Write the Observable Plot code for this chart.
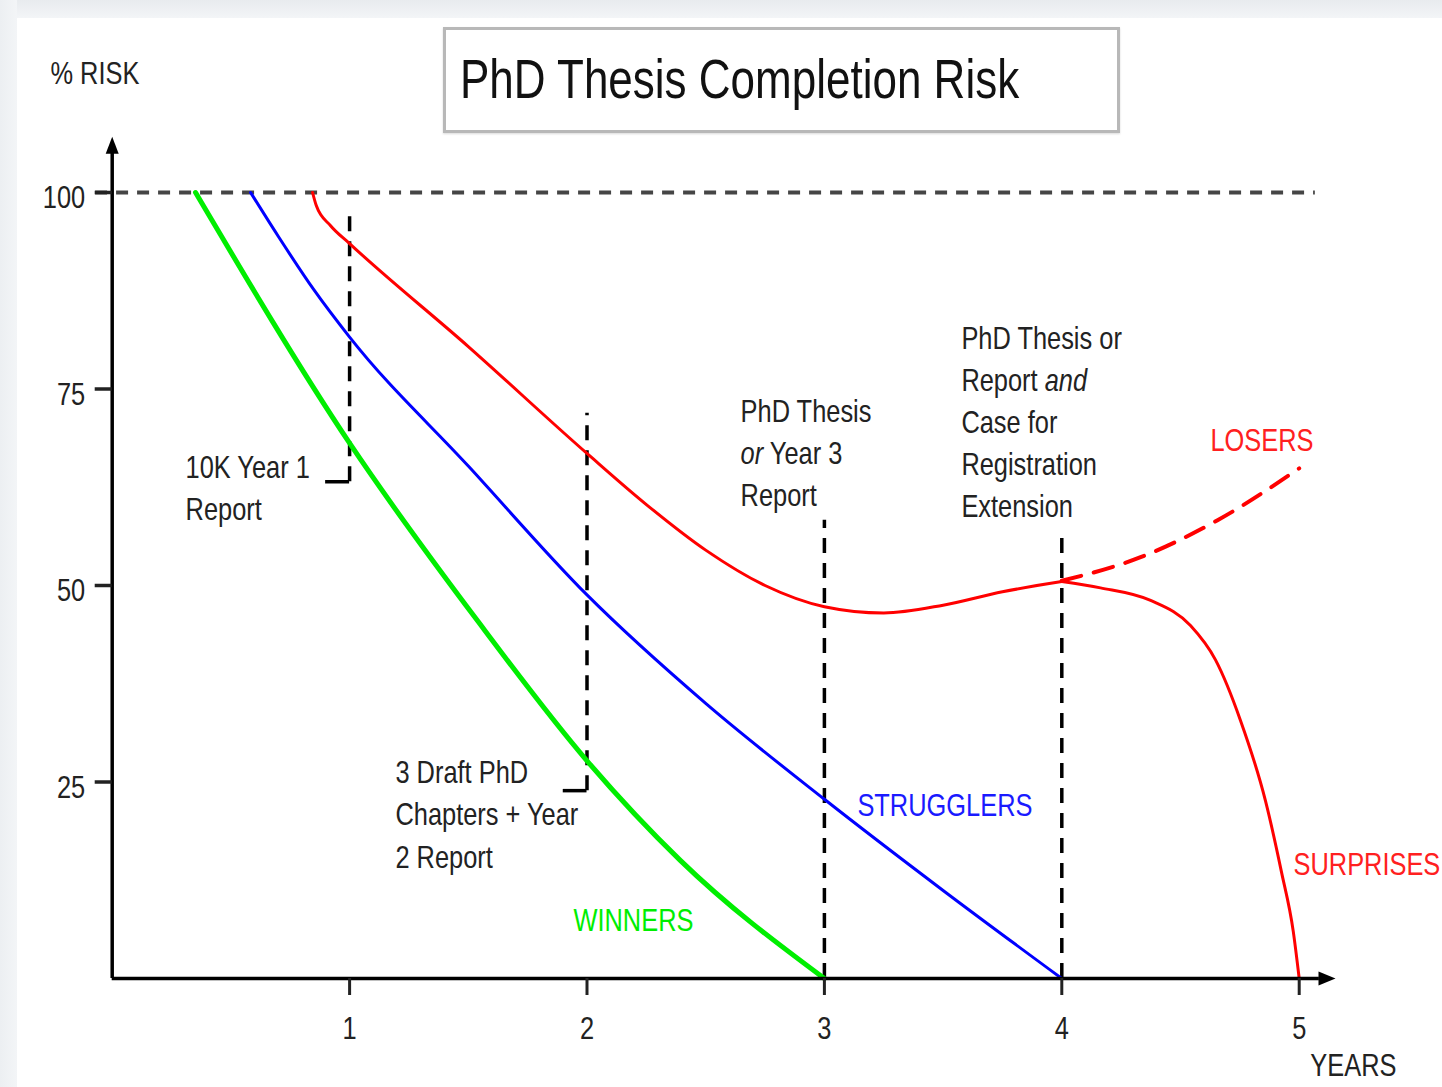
<!DOCTYPE html>
<html>
<head>
<meta charset="utf-8">
<script src="https://cdn.jsdelivr.net/npm/d3@7"></script>
<script src="https://cdn.jsdelivr.net/npm/@observablehq/plot@0.6"></script>
<style>
  html, body { margin: 0; padding: 0; background: #ffffff; }
  #wrap { position: relative; width: 1442px; height: 1087px; overflow: hidden; background: #ffffff;
          font-family: 'Liberation Sans', Arial, sans-serif; }
  #wrap svg { position: absolute; left: 0; top: 0; }
  .edge-top { position: absolute; left: 0; top: 0; width: 1442px; height: 18px;
              background: linear-gradient(#e8ebee, #f3f5f7); }
  .edge-left { position: absolute; left: 0; top: 0; width: 17px; height: 1087px;
               background: linear-gradient(90deg, #eceff2, #f3f5f7); }
  #title { position: absolute; left: 443px; top: 27px; width: 677px; height: 106px; box-sizing: border-box;
           border: 3px solid #b8b8b8; box-shadow: 0 1px 2px rgba(0,0,0,0.15); background: #fff; }
  #title span { position: absolute; left: 14px; top: 22px; font-size: 55px; line-height: 1; color: #111;
                white-space: nowrap; transform: scaleX(0.8); transform-origin: 0 0; }
</style>
</head>
<body>
<div id="wrap">
  <div class="edge-top"></div>
  <div class="edge-left"></div>
  <div id="title"><span>PhD Thesis Completion Risk</span></div>
</div>
<script>
// ---------- data ----------
const xTicks = [1, 2, 3, 4, 5];
const yTicks = [25, 50, 75, 100];

const winnersYear = [0.351, 1, 1.539, 2, 2.394, 3];
const winnersRisk = [100, 68.1, 45.5, 27.7, 15.0, 0];

const strugglersYear = [0.583, 0.7, 0.85, 1, 1.5, 2, 2.5, 3, 3.5, 4];
const strugglersRisk = [100, 94.4, 87.6, 81.6, 65.2, 48.8, 35.0, 22.8, 11.2, 0];

const redYear = [0.844, 0.860, 0.919, 1, 1.5, 2, 2.25, 2.5, 2.75, 3, 3.25, 3.5, 3.75, 4];
const redRisk = [100, 98.3, 95.8, 93.5, 80.4, 66.8, 60.3, 54.5, 50.0, 47.3, 46.5, 47.5, 49.2, 50.5];

const surprisesYear = [4, 4.163, 4.374, 4.542, 4.648, 4.753, 4.858, 4.925, 4.975, 5];
const surprisesRisk = [50.5, 49.7, 48.1, 44.9, 40.5, 32.8, 22.6, 13.6, 6.0, 0];

const losersYear = [4, 4.332, 4.656, 5];
const losersRisk = [50.6, 53.6, 58.3, 64.9];

// milestone report markers (dashed verticals)
const milestoneYear   = [1, 2, 3, 4];
const milestoneTop    = [97.7, 71.9, 58.3, 56.4];
const milestoneBottom = [63.2, 23.9, 0, 0];
const bracketFrom     = [0.899, 1.9, null, null];

// milestone notes
const noteText = ["10K Year 1\nReport", "3 Draft PhD\nChapters + Year\n2 Report",
                  "PhD Thesis\nor Year 3\nReport", "PhD Thesis or\nReport and\nCase for\nRegistration\nExtension"];
const noteYear = [0.309, 1.193, 2.647, 3.577];
const noteRisk = [67.45, 28.65, 74.65, 83.95];
const italicWords = [{line: "or Year 3", word: "or"}, {line: "Report and", word: "and"}];

// group labels
const groupNames = ["WINNERS", "STRUGGLERS", "LOSERS", "SURPRISES"];
const groupYear  = [1.943, 3.139, 4.626, 4.976];
const groupRisk  = [7.3, 21.9, 68.4, 14.4];
const groupColor = {WINNERS: "#00ee00", STRUGGLERS: "#1a1aff", LOSERS: "#ff2020", SURPRISES: "#ff2020"};

// axis titles and extents
const axisTitles = [{text: "% RISK", year: -0.26, risk: 115.1}, {text: "YEARS", year: 5.047, risk: -11.1}];
const yAxisEnd = 105.2, yArrowTip = 107.1;
const xAxisEnd = 5.085, xArrowTip = 5.153;
const refLine = {risk: 100, from: -0.07, to: 5.068};

// ---------- build tables ----------
const zip = (xs, ys) => xs.map((x, i) => ({year: x, risk: ys[i]}));
const winners = zip(winnersYear, winnersRisk);
const strugglers = zip(strugglersYear, strugglersRisk);
const red = zip(redYear, redRisk);
const surprises = zip(surprisesYear, surprisesRisk);
const losers = zip(losersYear, losersRisk);
const milestones = milestoneYear.map((y, i) => ({year: y, top: milestoneTop[i], bottom: milestoneBottom[i], from: bracketFrom[i]}));
const notes = noteText.map((t, i) => ({text: t, year: noteYear[i], risk: noteRisk[i]}));
const groups = groupNames.map((n, i) => ({text: n, year: groupYear[i], risk: groupRisk[i]}));

const triUp = {draw(ctx) { ctx.moveTo(0, 0); ctx.lineTo(6.5, 17); ctx.lineTo(-6.5, 17); ctx.closePath(); }};
const triRight = {draw(ctx) { ctx.moveTo(0, 0); ctx.lineTo(-17, -7); ctx.lineTo(-17, 7); ctx.closePath(); }};

const FONT = "'Liberation Sans', Arial, sans-serif";

const chart = Plot.plot({
  width: 1442,
  height: 1087,
  marginLeft: 111.7,
  marginRight: 143.3,
  marginTop: 192,
  marginBottom: 109,
  x: {domain: [0, 5]},
  y: {domain: [0, 100]},
  style: {fontFamily: FONT, fontSize: "31px", background: "transparent", color: "#222", overflow: "visible"},
  marks: [
    Plot.ruleY([refLine], {y: "risk", x1: "from", x2: "to", stroke: "#454545", strokeWidth: 4, strokeDasharray: "12,9"}),
    Plot.ruleX(milestones, {x: "year", y1: "bottom", y2: "top", stroke: "#000", strokeWidth: 3.5, strokeDasharray: "15,10"}),
    Plot.ruleY(milestones.filter(d => d.from != null), {y: "bottom", x1: "from", x2: "year", stroke: "#000", strokeWidth: 3.5}),
    Plot.line(losers, {x: "year", y: "risk", stroke: "#ff0000", strokeWidth: 4, strokeDasharray: "20,13", curve: "monotone-x"}),
    Plot.line(red, {x: "year", y: "risk", stroke: "#ff0000", strokeWidth: 3, curve: "monotone-x"}),
    Plot.line(surprises, {x: "year", y: "risk", stroke: "#ff0000", strokeWidth: 3, curve: "monotone-x"}),
    Plot.line(strugglers, {x: "year", y: "risk", stroke: "#0000ff", strokeWidth: 3, curve: "monotone-x"}),
    Plot.line(winners, {x: "year", y: "risk", stroke: "#00ee00", strokeWidth: 5, curve: "monotone-x"}),
    Plot.ruleX([0], {y1: 0, y2: yAxisEnd, stroke: "#000", strokeWidth: 3.5}),
    Plot.ruleY([0], {x1: 0, x2: xAxisEnd, stroke: "#000", strokeWidth: 3.5}),
    Plot.dot([{year: 0, risk: yArrowTip}], {x: "year", y: "risk", symbol: triUp, fill: "#000", stroke: null}),
    Plot.dot([{year: xArrowTip, risk: 0}], {x: "year", y: "risk", symbol: triRight, fill: "#000", stroke: null}),
    Plot.axisY({ticks: yTicks, tickSize: 17, strokeWidth: 3.5, label: null, tickFormat: () => ""}),
    Plot.axisY({ticks: yTicks, tickSize: 0, tickPadding: 27, fontSize: 31, label: null, fill: "#222", dy: 6, tickFormat: d => String(d)}),
    Plot.axisX({ticks: xTicks, tickSize: 17, tickPadding: 21, strokeWidth: 3, fontSize: 31, label: null, fill: "#222", tickFormat: d => String(d)}),
    Plot.text(notes, {x: "year", y: "risk", text: "text", textAnchor: "start", lineAnchor: "top", lineHeight: 1.36, fontSize: 31, fill: "#222"}),
    Plot.text(groups, {x: "year", y: "risk", text: "text", textAnchor: "start", lineAnchor: "middle", fontSize: 31, fill: d => groupColor[d.text]}),
    Plot.text(axisTitles, {x: "year", y: "risk", text: "text", textAnchor: "start", lineAnchor: "middle", fontSize: 31, fill: "#222"})
  ]
});

// italic words inside multi-line notes
const NS = "http://www.w3.org/2000/svg";
chart.querySelectorAll("text, tspan").forEach(el => {
  if (el.childElementCount) return;
  const hit = italicWords.find(w => el.textContent === w.line);
  if (!hit) return;
  const parts = hit.line.split(hit.word);
  el.textContent = "";
  el.appendChild(document.createTextNode(parts[0]));
  const it = document.createElementNS(NS, "tspan");
  it.setAttribute("font-style", "italic");
  it.textContent = hit.word;
  el.appendChild(it);
  el.appendChild(document.createTextNode(parts.slice(1).join(hit.word)));
});

// narrow (Arial Narrow-like) lettering: compress each text horizontally about its anchor
chart.querySelectorAll("text").forEach(t => {
  const tr = t.getAttribute("transform") || "";
  t.setAttribute("transform", (tr + " scale(0.82,1)").trim());
});

document.getElementById("wrap").insertBefore(chart, document.getElementById("wrap").firstChild);
</script>
</body>
</html>
